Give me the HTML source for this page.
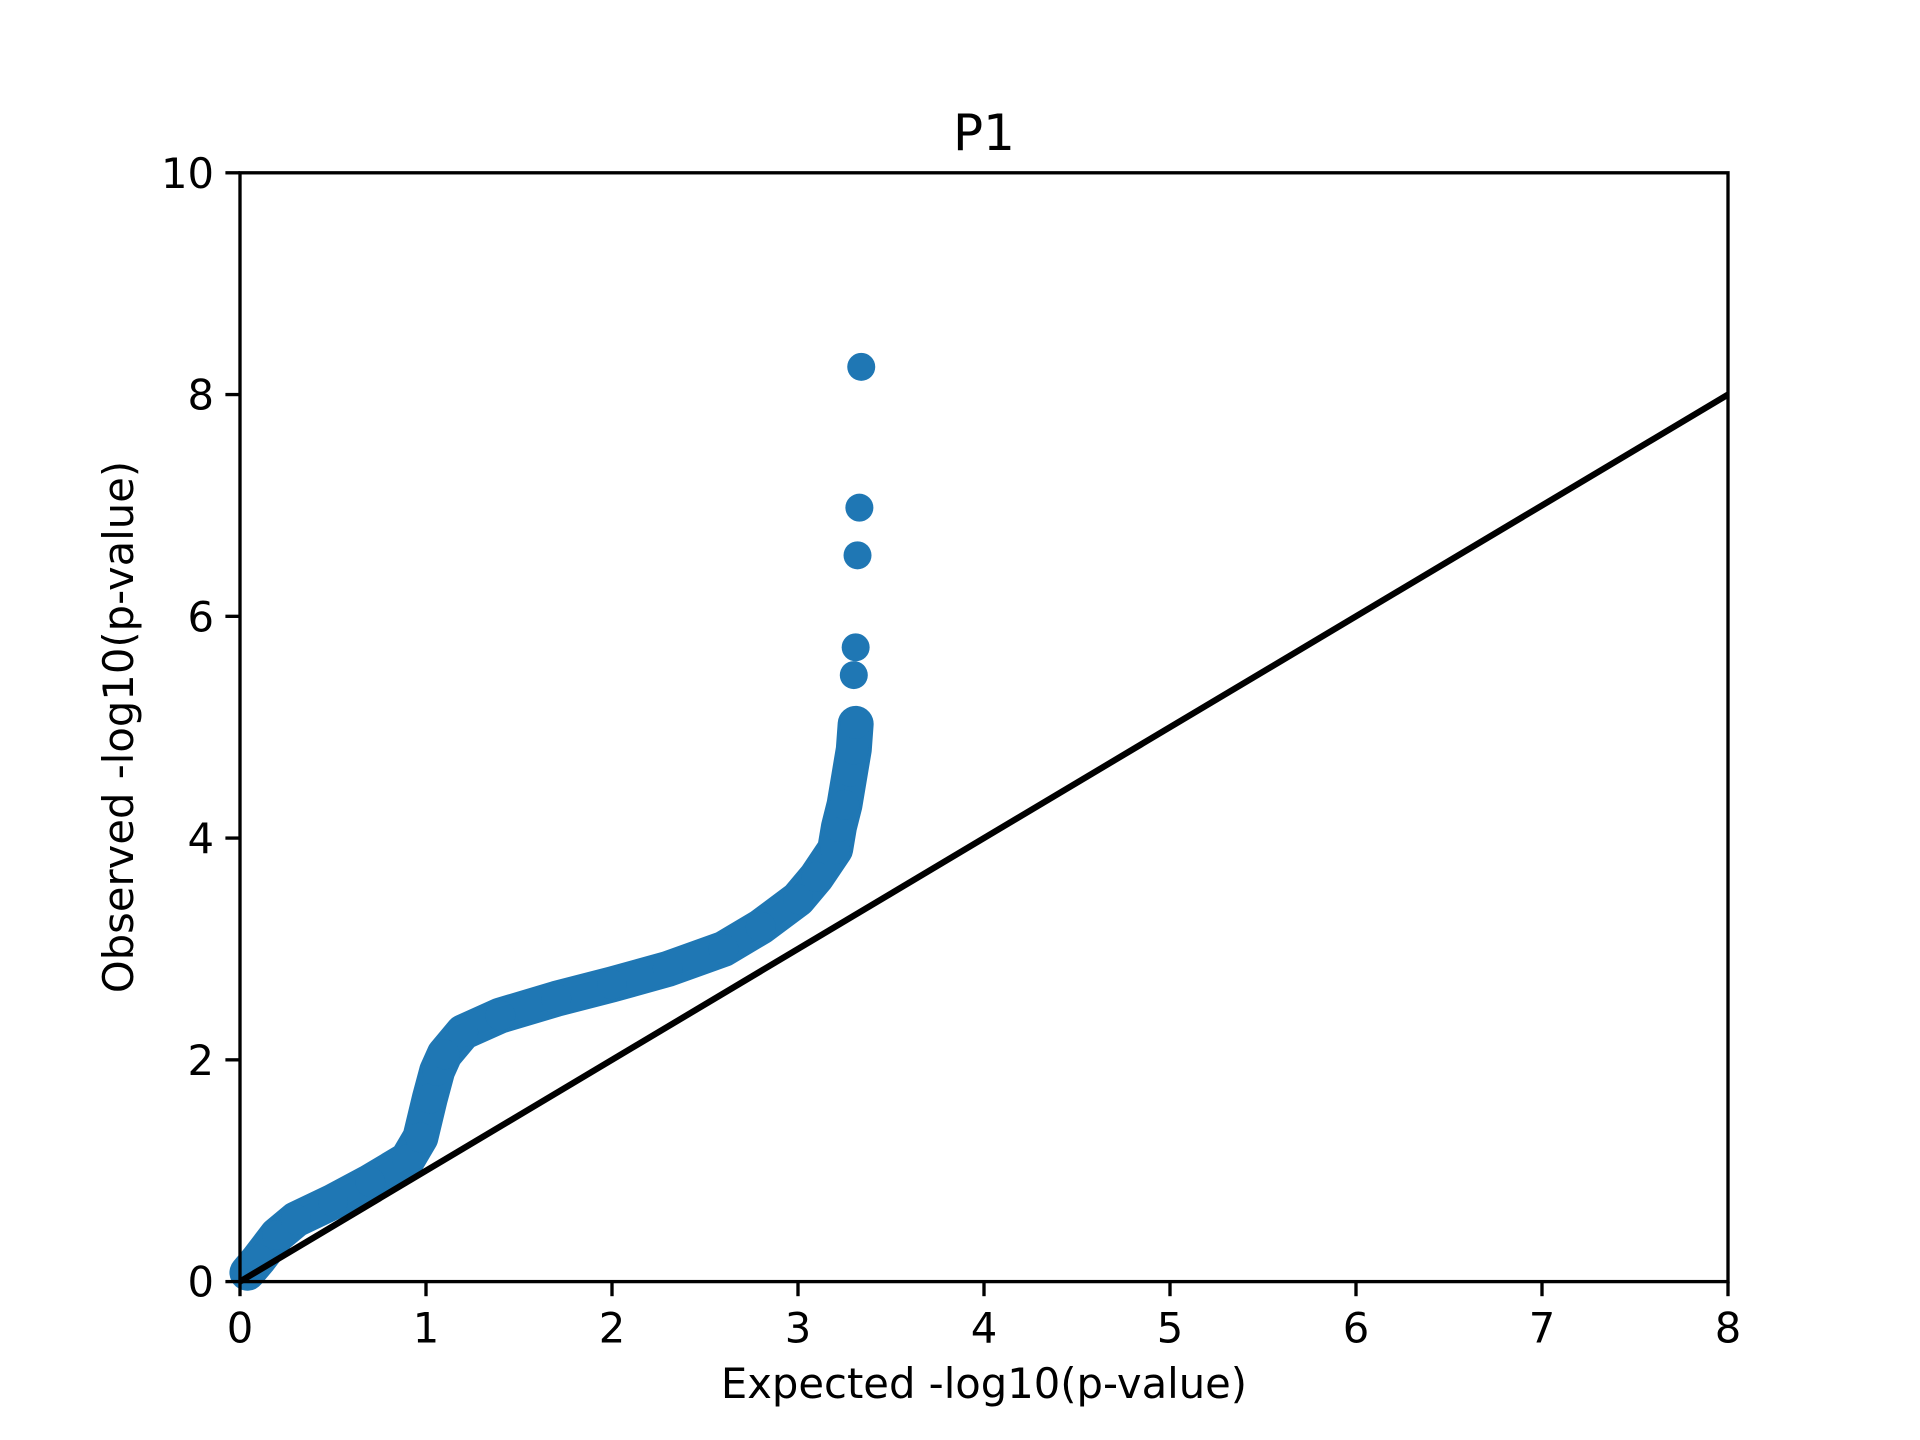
<!DOCTYPE html>
<html><head><meta charset="utf-8"><style>
html,body{margin:0;padding:0;background:#fff;}
svg{display:block;font-family:"DejaVu Sans","Liberation Sans",sans-serif;}
</style></head><body>
<svg id="chart" width="1920" height="1440" viewBox="0 0 1920 1440">
<rect width="1920" height="1440" fill="#fff"/>
<text x="984" y="150" font-size="50" text-anchor="middle">P1</text>
<g id="marks"></g>
<g id="axes"></g>
<text x="984" y="1398" font-size="41.7" text-anchor="middle">Expected -log10(p-value)</text>
<text x="0" y="0" font-size="41.7" text-anchor="middle" transform="translate(133,727) rotate(-90)">Observed -log10(p-value)</text>
</svg>
<script>
const xTicks=[0,1,2,3,4,5,6,7,8];
const yTicks=[0,2,4,6,8,10];
const expected=[0.04,0.1,0.2,0.3,0.5,0.7,0.9,0.97,1.02,1.06,1.1,1.2,1.4,1.7,2.0,2.3,2.6,2.8,3.0,3.1,3.2,3.22,3.25,3.28,3.3,3.31];
const observed=[0.08,0.2,0.42,0.56,0.72,0.9,1.1,1.3,1.65,1.9,2.05,2.25,2.4,2.55,2.68,2.82,3.0,3.2,3.45,3.65,3.9,4.1,4.3,4.6,4.8,5.03];
const tailExpected=[3.3,3.31,3.32,3.33,3.34];
const tailObserved=[5.47,5.72,6.55,6.98,8.25];
const diagX=[0,8];
const diagY=[0,8];
const L=240,R=1728,T=172.8,B=1281.6;
const sx=v=>L+(v-0)/(8-0)*(R-L);
const sy=v=>B-(v-0)/(10-0)*(B-T);
const NS="http://www.w3.org/2000/svg";
const marks=document.getElementById('marks'),axes=document.getElementById('axes');
function mk(tag,attrs,parent){const e=document.createElementNS(NS,tag);for(const k in attrs)e.setAttribute(k,attrs[k]);parent.appendChild(e);return e;}
const band=mk('polyline',{points:expected.map((x,i)=>sx(x)+','+sy(observed[i])).join(' '),fill:'none',stroke:'#1f77b4','stroke-width':36,'stroke-linejoin':'round','stroke-linecap':'round'},marks);


expected.forEach((x,i)=>{const c=mk('circle',{cx:sx(x),cy:sy(observed[i]),r:15,fill:'#1f77b4'},marks);

});
tailExpected.forEach((x,i)=>{const c=mk('circle',{cx:sx(x),cy:sy(tailObserved[i]),r:14,fill:'#1f77b4'},marks);

});
const d=mk('line',{x1:sx(diagX[0]),y1:sy(diagY[0]),x2:sx(diagX[1]),y2:sy(diagY[1]),stroke:'#000','stroke-width':6.25},marks);


const fr=mk('rect',{x:L,y:T,width:R-L,height:B-T,fill:'none',stroke:'#000','stroke-width':3.33},axes);


xTicks.forEach(t=>{const x=sx(t);
const l=mk('line',{x1:x,y1:B,x2:x,y2:B+14.6,stroke:'#000','stroke-width':3.33},axes);


const tx=mk('text',{x:x,y:B+61,'font-size':41.7,'text-anchor':'middle'},axes);tx.textContent=t;

});
yTicks.forEach(t=>{const y=sy(t);
const l=mk('line',{x1:L-14.6,y1:y,x2:L,y2:y,stroke:'#000','stroke-width':3.33},axes);


const tx=mk('text',{x:L-26,y:y+15,'font-size':41.7,'text-anchor':'end'},axes);tx.textContent=t;

});
</script>
</body></html>
